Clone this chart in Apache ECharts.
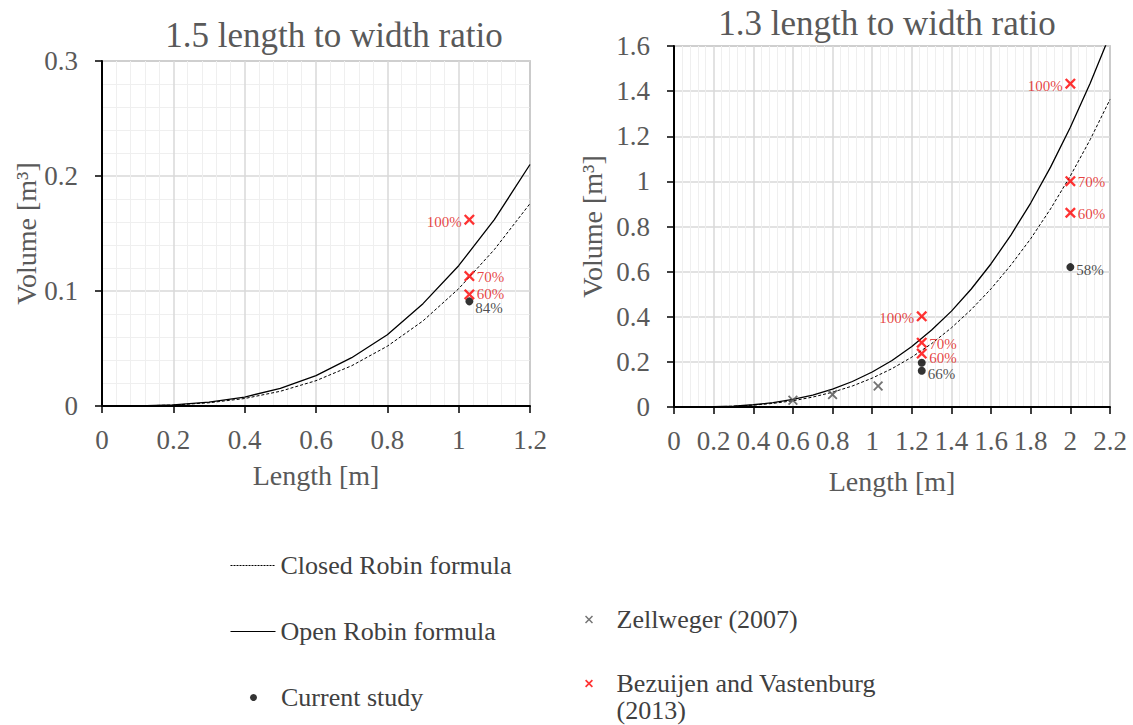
<!DOCTYPE html>
<html><head><meta charset="utf-8">
<script src="https://cdn.jsdelivr.net/npm/echarts@6/dist/echarts.min.js"></script>
<style>html,body{margin:0;padding:0;background:#fff}#c{width:1133px;height:725px}</style>
</head><body><div id="c"></div>
<script>
// ---------- DATA ----------
// Left panel: 1.5 length to width ratio
const lengthsA = [0, 0.1, 0.2, 0.3, 0.4, 0.5, 0.6, 0.7, 0.8, 0.9, 1.0, 1.1, 1.2];
const openA    = [0, 0.0001, 0.001, 0.0033, 0.0078, 0.0153, 0.0264, 0.042, 0.062, 0.089, 0.122, 0.162, 0.210];
const closedA  = [0, 0.0001, 0.0008, 0.0028, 0.0065, 0.0128, 0.022, 0.035, 0.052, 0.074, 0.102, 0.136, 0.176];
const studyAx = [1.03];
const studyAy = [0.091];
const studyAlabels = ['84%'];
const bezAx = [1.03, 1.03, 1.03];
const bezAy = [0.162, 0.113, 0.097];
const bezAlabels = ['100%', '70%', '60%'];
const xTicksA = ['0', '0.2', '0.4', '0.6', '0.8', '1', '1.2'];
const yTicksA = ['0', '0.1', '0.2', '0.3'];

// Right panel: 1.3 length to width ratio
const lengthsB = [0, 0.1, 0.2, 0.3, 0.4, 0.5, 0.6, 0.7, 0.8, 0.9, 1.0, 1.1, 1.2, 1.3, 1.4, 1.5, 1.6, 1.7, 1.8, 1.9, 2.0, 2.1, 2.2];
const openB    = [0, 0.0002, 0.0012, 0.0042, 0.0099, 0.0194, 0.0335, 0.053, 0.079, 0.113, 0.155, 0.206, 0.268, 0.341, 0.425, 0.523, 0.635, 0.762, 0.904, 1.063, 1.240, 1.435, 1.650];
const closedB  = [0, 0.0001, 0.001, 0.0035, 0.0082, 0.016, 0.0276, 0.044, 0.0655, 0.093, 0.128, 0.170, 0.221, 0.281, 0.351, 0.432, 0.524, 0.629, 0.746, 0.878, 1.024, 1.185, 1.363];
const zellBx = [0.6, 0.8, 1.03];
const zellBy = [0.030, 0.055, 0.093];
const studyBx = [1.25, 1.25, 2.0];
const studyBy = [0.196, 0.161, 0.620];
const studyBlabels = ['', '66%', '58%'];
const bezBx = [1.25, 1.25, 1.25, 2.0, 2.0, 2.0];
const bezBy = [0.402, 0.285, 0.237, 1.433, 1.001, 0.861];
const bezBlabels = ['100%', '70%', '60%', '100%', '70%', '60%'];
const xTicksB = ['0', '0.2', '0.4', '0.6', '0.8', '1', '1.2', '1.4', '1.6', '1.8', '2', '2.2'];
const yTicksB = ['0', '0.2', '0.4', '0.6', '0.8', '1', '1.2', '1.4', '1.6'];

const seriesNames = ['Closed Robin formula', 'Open Robin formula', 'Current study', 'Zellweger (2007)', 'Bezuijen and Vastenburg (2013)'];
const titles = ['1.5 length to width ratio', '1.3 length to width ratio'];

// ---------- STYLE ----------
const FONT = '"Liberation Serif", "DejaVu Serif", serif';
const GREY = '#595959';
const XBOLD = 'path://M0,1.5L1.5,0L5,3.5L8.5,0L10,1.5L6.5,5L10,8.5L8.5,10L5,6.5L1.5,10L0,8.5L3.5,5Z';
const XMID = 'path://M0,1.3L1.3,0L5,3.7L8.7,0L10,1.3L6.3,5L10,8.7L8.7,10L5,6.3L1.3,10L0,8.7L3.7,5Z';
// vertical nudges (px) of the percentage labels, per point
const nudgeStudyA = [7];
const nudgeBezA = [2, 1, 0];
const nudgeStudyB = [0, 3, 3];
const nudgeBezB = [2, 1, 4, 2, 1, 1];

function pairs(xs, ys) { return xs.map((x, i) => [x, ys[i]]); }
function labelled(xs, ys, labels, color, nudge) {
  return xs.map((x, i) => {
    const t = labels[i];
    const left = t === '100%';
    return {
      value: [x, ys[i]],
      label: {
        show: t !== '', formatter: t, position: left ? 'left' : 'right',
        distance: 2, offset: [0, nudge[i]],
        fontFamily: FONT, fontSize: 15, lineHeight: 14, color: color
      }
    };
  });
}

function xAxis(idx, max, ticks, gap) {
  return {
    type: 'value', gridIndex: idx, min: 0, max: max, interval: 0.2,
    name: 'Length [m]', nameLocation: 'middle', nameGap: gap,
    nameTextStyle: { fontFamily: FONT, fontSize: 28, color: GREY },
    axisLine: { show: true, onZero: false, lineStyle: { color: '#000', width: 2 } },
    axisTick: { show: true, inside: false, length: 7, lineStyle: { color: '#000', width: 1.5 } },
    axisLabel: { margin: 20, fontFamily: FONT, fontSize: 27, color: GREY,
      formatter: (v, i) => ticks[i] },
    splitLine: { show: true, lineStyle: { color: '#d9d9d9', width: 1.5 } },
    minorTick: { show: false, splitNumber: 5 },
    minorSplitLine: { show: true, lineStyle: { color: '#efefef', width: 1 } }
  };
}
function yAxis(idx, max, interval, ticks, gap, minor) {
  return {
    type: 'value', gridIndex: idx, min: 0, max: max, interval: interval,
    name: 'Volume [m³]', nameLocation: 'middle', nameGap: gap,
    nameTextStyle: { fontFamily: FONT, fontSize: 28, color: GREY },
    axisLine: { show: true, onZero: false, lineStyle: { color: '#000', width: 2 } },
    axisTick: { show: true, inside: false, length: 7, lineStyle: { color: '#000', width: 1.5 } },
    axisLabel: { margin: 24, fontFamily: FONT, fontSize: 27, color: GREY,
      formatter: (v, i) => ticks[i] },
    splitLine: { show: true, lineStyle: { color: '#d9d9d9', width: 1.5 } },
    minorTick: { show: false, splitNumber: 5 },
    minorSplitLine: { show: minor, lineStyle: { color: '#efefef', width: 1 } }
  };
}
function lineSeries(name, idx, xs, ys, dashed) {
  return {
    name: name, type: 'line', xAxisIndex: idx, yAxisIndex: idx, symbol: 'none',
    data: pairs(xs, ys), z: 3, silent: true,
    lineStyle: dashed ? { color: '#000', width: 1, type: [3, 2] } : { color: '#000', width: 1.3 },
    itemStyle: { color: '#000' }
  };
}
function legendItem(name, left, top, extra) {
  return Object.assign({
    data: [name], left: left, top: top, orient: 'vertical', padding: 0,
    itemWidth: 45, itemHeight: 8, itemGap: 0, selectedMode: false,
    textStyle: { fontFamily: FONT, fontSize: 26, color: '#404040', lineHeight: 27 }
  }, extra || {});
}
const hiddenSymbol = { color: 'rgba(0,0,0,0)', borderWidth: 0, opacity: 0 };

const chart = echarts.init(document.getElementById('c'), null, { renderer: 'svg' });
chart.setOption({
  animation: false,
  backgroundColor: '#fff',
  grid: [
    { left: 102, top: 61, width: 428, height: 345, show: true, borderColor: '#666', borderWidth: 1.2, containLabel: false },
    { left: 674, top: 46, width: 436, height: 361, show: true, borderColor: '#666', borderWidth: 1.2, containLabel: false }
  ],
  xAxis: [xAxis(0, 1.2, xTicksA, 55), xAxis(1, 2.2, xTicksB, 60)],
  yAxis: [yAxis(0, 0.3, 0.1, yTicksA, 62, true), yAxis(1, 1.6, 0.2, yTicksB, 68, false)],
  graphic: [
    { type: 'text', x: 334, y: 35, style: { text: titles[0], font: '35px ' + FONT, fill: GREY, align: 'center', verticalAlign: 'middle' } },
    { type: 'text', x: 887, y: 23, style: { text: titles[1], font: '35px ' + FONT, fill: GREY, align: 'center', verticalAlign: 'middle' } }
  ],
  legend: [
    legendItem(seriesNames[0], 230, 552, { itemHeight: 14, itemStyle: hiddenSymbol, lineStyle: { width: 1, type: [2, 1] } }),
    legendItem(seriesNames[1], 230, 618, { itemHeight: 14, itemStyle: hiddenSymbol, lineStyle: { width: 1 } }),
    legendItem(seriesNames[2], 250, 684, { itemHeight: 7 }),
    legendItem(seriesNames[3], 585, 606, { itemHeight: 8 }),
    legendItem(seriesNames[4], 585, 643, { itemHeight: 8,
      formatter: () => '\u00a0\nBezuijen and Vastenburg\n(2013)' })
  ],
  series: [
    lineSeries(seriesNames[0], 0, lengthsA, closedA, true),
    lineSeries(seriesNames[1], 0, lengthsA, openA, false),
    lineSeries(seriesNames[0], 1, lengthsB, closedB, true),
    lineSeries(seriesNames[1], 1, lengthsB, openB, false),
    { name: seriesNames[2], type: 'scatter', xAxisIndex: 0, yAxisIndex: 0, symbol: 'circle', symbolSize: 8, z: 5,
      itemStyle: { color: '#000' }, data: labelled(studyAx, studyAy, studyAlabels, '#222', nudgeStudyA) },
    { name: seriesNames[2], type: 'scatter', xAxisIndex: 1, yAxisIndex: 1, symbol: 'circle', symbolSize: 8, z: 5,
      itemStyle: { color: '#000' }, data: labelled(studyBx, studyBy, studyBlabels, '#222', nudgeStudyB) },
    { name: seriesNames[3], type: 'scatter', xAxisIndex: 1, yAxisIndex: 1, symbol: XMID, symbolSize: 10, symbolKeepAspect: true, z: 5,
      itemStyle: { color: '#505050' }, data: pairs(zellBx, zellBy) },
    { name: seriesNames[4], type: 'scatter', xAxisIndex: 0, yAxisIndex: 0, symbol: XBOLD, symbolSize: 11, symbolKeepAspect: true, z: 6,
      itemStyle: { color: '#ff0000' }, data: labelled(bezAx, bezAy, bezAlabels, '#e01010', nudgeBezA) },
    { name: seriesNames[4], type: 'scatter', xAxisIndex: 1, yAxisIndex: 1, symbol: XBOLD, symbolSize: 11, symbolKeepAspect: true, z: 6,
      itemStyle: { color: '#ff0000' }, data: labelled(bezBx, bezBy, bezBlabels, '#e01010', nudgeBezB) }
  ]
});
</script></body></html>
